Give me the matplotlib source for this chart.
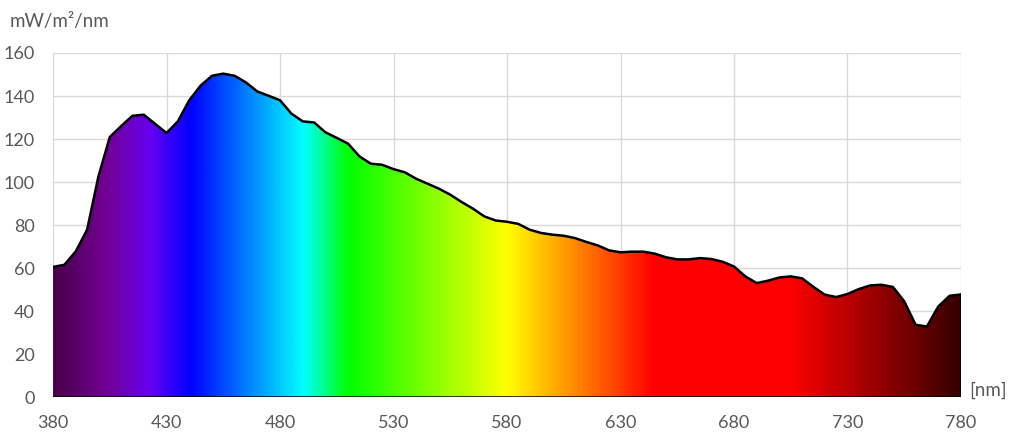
import numpy as np
import matplotlib
matplotlib.use("Agg")
import matplotlib.pyplot as plt
from matplotlib.colors import LinearSegmentedColormap

# spectrum, 5 nm steps
wavelength = np.arange(380, 781, 5)
irradiance = [60.5, 61.5, 67.7, 77.8, 102.6, 120.9, 126.0, 130.8, 131.3, 127.0,
              122.8, 128.2, 138.0, 144.8, 149.4, 150.4, 149.4, 146.3, 142.1, 140.1,
              138.0, 131.8, 128.2, 127.7, 123.1, 120.5, 117.8, 111.9, 108.5, 108.0,
              106.0, 104.5, 101.5, 99.2, 96.9, 94.1, 90.7, 87.6, 84.0, 82.1,
              81.5, 80.5, 77.8, 76.3, 75.5, 75.0, 73.9, 72.1, 70.5, 68.2,
              67.3, 67.6, 67.6, 66.7, 65.0, 64.0, 64.0, 64.6, 64.2, 62.9,
              60.7, 56.1, 53.0, 54.1, 55.6, 56.1, 55.2, 51.2, 47.6, 46.5,
              47.9, 50.2, 51.9, 52.2, 51.2, 44.5, 33.6, 32.8, 42.1, 47.1, 47.7]

# gradient stops (wavelength, colour)
stop_nm = [380, 403, 422, 440, 490, 510, 580, 645, 705, 780]
stop_col = ['#4a004c', '#730094', '#6600f2', '#0000ff', '#00ffff', '#00ff00',
            '#ffff00', '#ff0000', '#ff0000', '#380000']

cmap = LinearSegmentedColormap.from_list(
    'spec', [((n - 380) / 400, c) for n, c in zip(stop_nm, stop_col)])

plt.rcParams['font.family'] = ['Lato', 'DejaVu Sans']
txt = '#595959'

fig = plt.figure(figsize=(10.18, 4.33), dpi=100)
ax = fig.add_axes([0.0521, 0.0831, 0.8919, 0.7945])

xs = np.linspace(380, 780, 800)
img = ax.imshow(xs[np.newaxis, :], extent=[380, 780, 0, 160], aspect='auto',
                cmap=cmap, vmin=380, vmax=780, origin='lower', zorder=2)
poly = ax.fill_between(wavelength, irradiance, 0, facecolor='none',
                       edgecolor='none', zorder=2)
img.set_clip_path(poly.get_paths()[0], transform=ax.transData)
ax.plot(wavelength, irradiance, color='black', lw=1.8, zorder=3)
ax.plot([780, 780], [0, irradiance[-1]], color='black', lw=1.8, zorder=3)
ax.plot([380, 780], [0, 0], color='black', lw=1.8, zorder=3)

ax.set_xlim(380, 780)
ax.set_ylim(0, 160)
ax.set_xticks(np.arange(380, 781, 50))
ax.set_yticks(np.arange(0, 161, 20))
ax.grid(True, color='#d9d9d9', lw=1, zorder=0)
ax.set_axisbelow(True)
for s in ax.spines.values():
    s.set_visible(False)
ax.tick_params(length=0, labelsize=13, labelcolor=txt)
ax.tick_params(axis='y', pad=13)
ax.tick_params(axis='x', pad=13)

fig.text(10 / 1018, 1 - 21 / 433, 'mW/m²/nm', fontsize=13.5, color=txt,
         va='center', ha='left')
fig.text(969 / 1018, 1 - 390 / 433, '[nm]', fontsize=13.5, color=txt,
         va='center', ha='left')

fig.savefig('out.png', dpi=100)
